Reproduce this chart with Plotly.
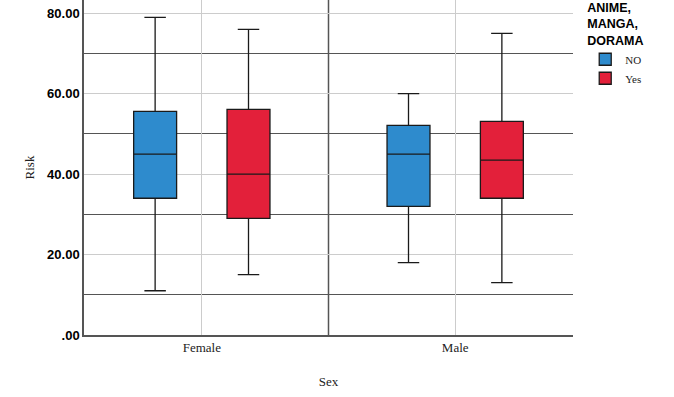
import plotly.graph_objects as go

categories = ["Female", "Male"]
groups = ["NO", "Yes"]
colors = {"NO": "#2E8BCD", "Yes": "#E3203A"}

lower = {"NO": [11, 18], "Yes": [15, 13]}
q1 = {"NO": [34, 32], "Yes": [29, 34]}
median = {"NO": [45, 45], "Yes": [40, 43.5]}
q3 = {"NO": [55.6, 52.1], "Yes": [56.1, 53.1]}
upper = {"NO": [79, 60], "Yes": [76, 75]}

ytickvals = [0, 20, 40, 60, 80]
yticktext = [".00", "20.00", "40.00", "60.00", "80.00"]

fig = go.Figure()
for g in groups:
    fig.add_trace(go.Box(
        name=g,
        x=categories,
        lowerfence=lower[g],
        q1=q1[g],
        median=median[g],
        q3=q3[g],
        upperfence=upper[g],
        fillcolor=colors[g],
        line=dict(color="#1a1a1a", width=1.3),
        whiskerwidth=0.5,
        boxpoints=False,
        hoverinfo="skip",
    ))

fig.update_layout(
    width=674, height=397,
    margin=dict(l=84, r=101, t=0, b=62, autoexpand=False),
    paper_bgcolor="white", plot_bgcolor="white",
    boxmode="group", boxgap=0.263, boxgroupgap=0.54,
    showlegend=True,
    legend=dict(
        title=dict(text="<b>ANIME,<br>MANGA,<br>DORAMA</b>",
                   font=dict(family="Liberation Sans", size=12.5, color="#000")),
        font=dict(family="Liberation Serif", size=11, color="#222"),
        x=1.025, xanchor="left", y=1.012, yanchor="top",
        bgcolor="rgba(0,0,0,0)", itemwidth=30, tracegroupgap=0,
    ),
    xaxis=dict(
        type="category", range=[-0.465, 1.465], automargin=False,
        showgrid=True, gridcolor="#cccccc", gridwidth=1,
        showline=True, linecolor="#555", linewidth=1.5,
        ticks="", zeroline=False,
        tickfont=dict(family="Liberation Serif", size=13, color="#222"),
        title=dict(text="Sex", font=dict(family="Liberation Serif", size=13, color="#222"), standoff=23),
    ),
    yaxis=dict(
        range=[0, 83.3], automargin=False,
        tickvals=ytickvals, ticktext=yticktext,
        showgrid=True, gridcolor="#cccccc", gridwidth=1,
        minor=dict(dtick=10, showgrid=True, gridcolor="#555", gridwidth=1.2),
        showline=True, linecolor="#555", linewidth=1.5,
        ticks="", zeroline=False,
        tickfont=dict(family="Liberation Sans", size=13, color="#000", weight="bold"),
        title=dict(text="Risk", font=dict(family="Liberation Serif", size=13, color="#222"), standoff=10),
    ),
    shapes=[dict(type="line", xref="x", yref="paper", x0=0.5, x1=0.5, y0=0, y1=1,
                 line=dict(color="#555", width=1.5), layer="below")],
)

fig.write_html("out.html", config={"displayModeBar": False},
               post_script="document.body.style.margin='0';")
